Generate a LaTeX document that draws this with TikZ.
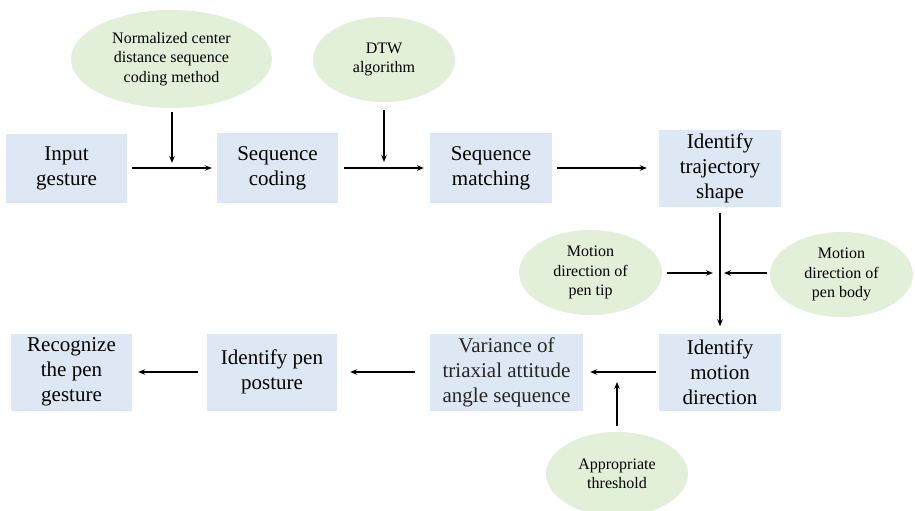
\documentclass[tikz,border=0pt]{standalone}
\usepackage{fontspec}
\setmainfont{Liberation Serif}
\usetikzlibrary{shapes.geometric,arrows.meta}
\definecolor{boxblue}{HTML}{DEE8F4}
\definecolor{ellgreen}{HTML}{E2EFD9}
\definecolor{vargray}{HTML}{262626}
\tikzset{
  procbox/.style={fill=boxblue, draw=none, inner sep=0pt, align=center,
    font=\fontsize{21}{25}\selectfont},
  inputell/.style={ellipse, fill=ellgreen, draw=none, inner sep=0pt, align=center,
    font=\fontsize{16}{19.5}\selectfont},
  flow/.style={-{Stealth[length=7pt,width=5.5pt]}, line width=1.6pt},
}
\begin{document}
\begin{tikzpicture}[x=1pt,y=-1pt]
\useasboundingbox (0,0) rectangle (915,511);
% process boxes
\node[procbox, minimum width=121pt, minimum height=69pt] (in) at (66.5,168) {Input\\gesture};
\node[procbox, minimum width=121pt, minimum height=70pt] (sc) at (277.5,168) {Sequence\\coding};
\node[procbox, minimum width=122pt, minimum height=70pt] (sm) at (491,168) {Sequence\\matching};
\node[procbox, minimum width=122pt, minimum height=77pt] (ts) at (720,168) {Identify\\trajectory\\shape};
\node[procbox, minimum width=122pt, minimum height=77pt] (md) at (720,372) {Identify\\motion\\direction};
\node[procbox, minimum width=153pt, minimum height=77pt, text=vargray] (var) at (506.5,372) {Variance of\\triaxial attitude\\angle sequence};
\node[procbox, minimum width=130pt, minimum height=77pt] (pp) at (272,372) {Identify pen\\posture};
\node[procbox, minimum width=121pt, minimum height=77pt] (rec) at (71.5,372) {Recognize\\the pen\\gesture};
% ellipses
\node[inputell, minimum width=201pt, minimum height=98pt] (nc) at (171.5,59) {Normalized center\\distance sequence\\coding method};
\node[inputell, minimum width=142pt, minimum height=85pt] (dtw) at (384,59.5) {DTW\\algorithm};
\node[inputell, minimum width=143pt, minimum height=85pt] (tip) at (590.5,272.5) {Motion\\direction of\\pen tip};
\node[inputell, minimum width=143pt, minimum height=85pt] (body) at (841.5,274.5) {Motion\\direction of\\pen body};
\node[inputell, minimum width=142pt, minimum height=84pt] (thr) at (617,474) {Appropriate\\threshold};
% junction points
\coordinate (j1) at (172,168);
\coordinate (j2) at (384,168);
\coordinate (j3) at (719,273);
\coordinate (j4) at (617,372);
% connectors
\draw[flow, shorten <=5pt, shorten >=5pt] (in.east) -- (sc.west);
\draw[flow, shorten <=6pt, shorten >=6pt] (sc.east) -- (sm.west);
\draw[flow, shorten <=5pt, shorten >=12pt] (sm.east) -- (ts.west);
\draw[flow, shorten <=4pt, shorten >=5pt] (nc.south -| j1) -- (j1);
\draw[flow, shorten <=8pt, shorten >=6pt] (dtw.south) -- (j2);
\draw[flow, shorten <=6pt, shorten >=7pt] (ts.south) -- (md.north);
\draw[flow, shorten <=5pt, shorten >=6pt] (tip.east |- j3) -- (j3);
\draw[flow, shorten <=3pt, shorten >=5pt] (body.west |- j3) -- (j3);
\draw[flow, shorten <=3pt, shorten >=7pt] (md.west) -- (var.east);
\draw[flow, shorten <=6pt, shorten >=10pt] (thr.north) -- (j4);
\draw[flow, shorten <=15pt, shorten >=13pt] (var.west) -- (pp.east);
\draw[flow, shorten <=9pt, shorten >=6pt] (pp.west) -- (rec.east);
\end{tikzpicture}
\end{document}
